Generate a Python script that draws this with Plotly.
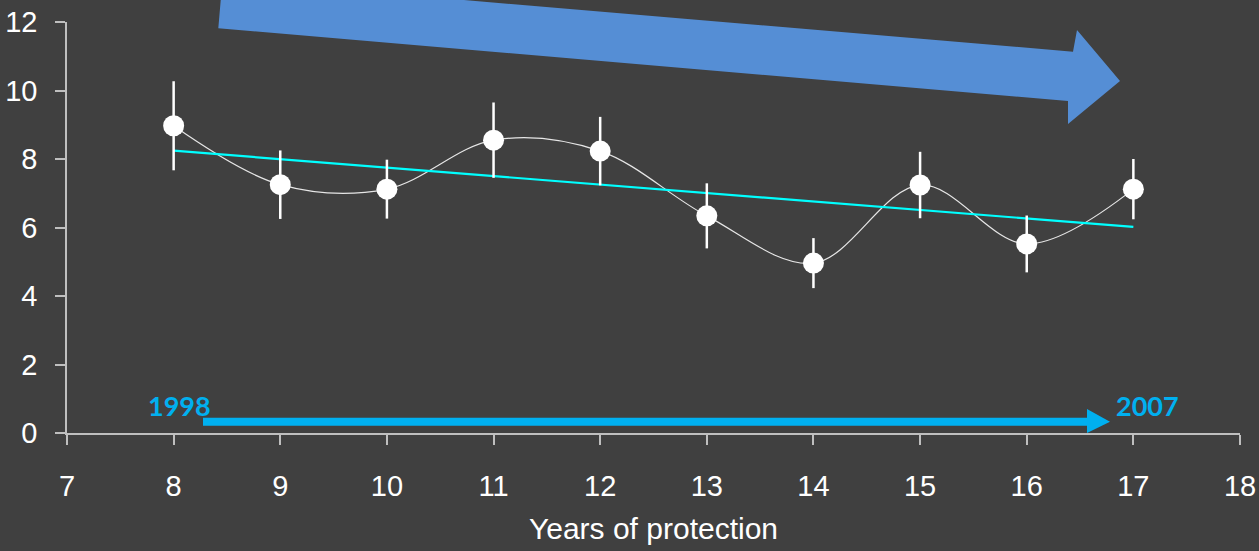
import numpy as np
import plotly.graph_objects as go

# Mean value per year of protection, with its error
years = [8, 9, 10, 11, 12, 13, 14, 15, 16, 17]
means = [8.97, 7.25, 7.12, 8.55, 8.23, 6.34, 4.96, 7.24, 5.52, 7.12]
errors = [1.30, 1.00, 0.86, 1.10, 1.00, 0.95, 0.73, 0.97, 0.83, 0.88]

x_ticks = list(range(7, 19))
y_ticks = list(range(0, 13, 2))

start_label = "1998"
end_label = "2007"

BG = "#404040"
AXIS = "#bfbfbf"
ARROW_BIG = "#558ed5"
ARROW_SMALL = "#00b0f0"
TREND = "#00ffff"

# least-squares trend over the series
slope, intercept = np.polyfit(years, means, 1)
trend_x = [years[0], years[-1]]
trend_y = [slope * v + intercept for v in trend_x]

fig = go.Figure()

# smoothed connecting line
fig.add_trace(go.Scatter(
    x=years, y=means, mode="lines",
    line=dict(color="#e6e6e6", width=1.2, shape="spline", smoothing=1.0),
    hoverinfo="skip", showlegend=False,
))

# linear trend
fig.add_trace(go.Scatter(
    x=trend_x, y=trend_y, mode="lines",
    line=dict(color=TREND, width=2.2),
    hoverinfo="skip", showlegend=False,
))

# points with vertical error bars
fig.add_trace(go.Scatter(
    x=years, y=means, mode="markers",
    marker=dict(color="white", size=21, line=dict(width=0)),
    error_y=dict(type="data", array=errors, visible=True,
                 color="white", thickness=2.5, width=0),
    showlegend=False,
))

# page-space helpers for the decorative arrows
L, R, T, B = 67, 19, 22, 118
W, H = 1259, 551
PW, PH = W - L - R, H - T - B


def px(xp):
    return (xp - L) / PW


def py(yp):
    return (H - B - yp) / PH


def path(points):
    return "M " + " L ".join(f"{px(a):.5f},{py(b):.5f}" for a, b in points) + " Z"


big_arrow = [(222.5, -20.5), (1073, 51.7), (1077, 30), (1120, 81),
             (1068, 124), (1068, 101), (218.3, 28.3)]
small_arrow = [(203, 417.7), (1087, 417.7), (1087, 409), (1110, 421.7),
               (1087, 433), (1087, 425.7), (203, 425.7)]

fig.add_shape(type="path", xref="paper", yref="paper", path=path(big_arrow),
              fillcolor=ARROW_BIG, line=dict(width=0), layer="above")
fig.add_shape(type="path", xref="paper", yref="paper", path=path(small_arrow),
              fillcolor=ARROW_SMALL, line=dict(width=0), layer="above")

label_font = dict(family="Lato", size=27, color=ARROW_SMALL, weight="bold")
fig.add_annotation(x=px(179.5), y=py(405), xref="paper", yref="paper",
                   text=f"<b>{start_label}</b>", showarrow=False,
                   xanchor="center", yanchor="middle", font=label_font)
fig.add_annotation(x=px(1147), y=py(405), xref="paper", yref="paper",
                   text=f"<b>{end_label}</b>", showarrow=False,
                   xanchor="center", yanchor="middle", font=label_font)

tick_font = dict(family="Liberation Sans, Arial", size=29, color="white")

fig.update_xaxes(
    range=[7, 18], tickvals=x_ticks, ticktext=[str(v) for v in x_ticks],
    showgrid=False, zeroline=False, showline=True,
    linecolor=AXIS, linewidth=1.5,
    ticks="outside", ticklen=10, tickwidth=1.5, tickcolor=AXIS,
    tickfont=tick_font, ticklabelstandoff=16,
    title=dict(text="Years of protection", standoff=17,
               font=dict(family="Liberation Sans, Arial", size=30, color="white")),
)
fig.update_yaxes(
    range=[0, 12], tickvals=y_ticks, ticktext=[str(v) for v in y_ticks],
    showgrid=False, zeroline=False, showline=True,
    linecolor=AXIS, linewidth=1.5,
    ticks="outside", ticklen=10, tickwidth=1.5, tickcolor=AXIS,
    tickfont=tick_font, ticklabelstandoff=12,
)

fig.update_layout(
    width=W, height=H,
    margin=dict(l=L, r=R, t=T, b=B, autoexpand=False),
    paper_bgcolor=BG, plot_bgcolor=BG,
    showlegend=False,
)

fig.write_html("out.html")
